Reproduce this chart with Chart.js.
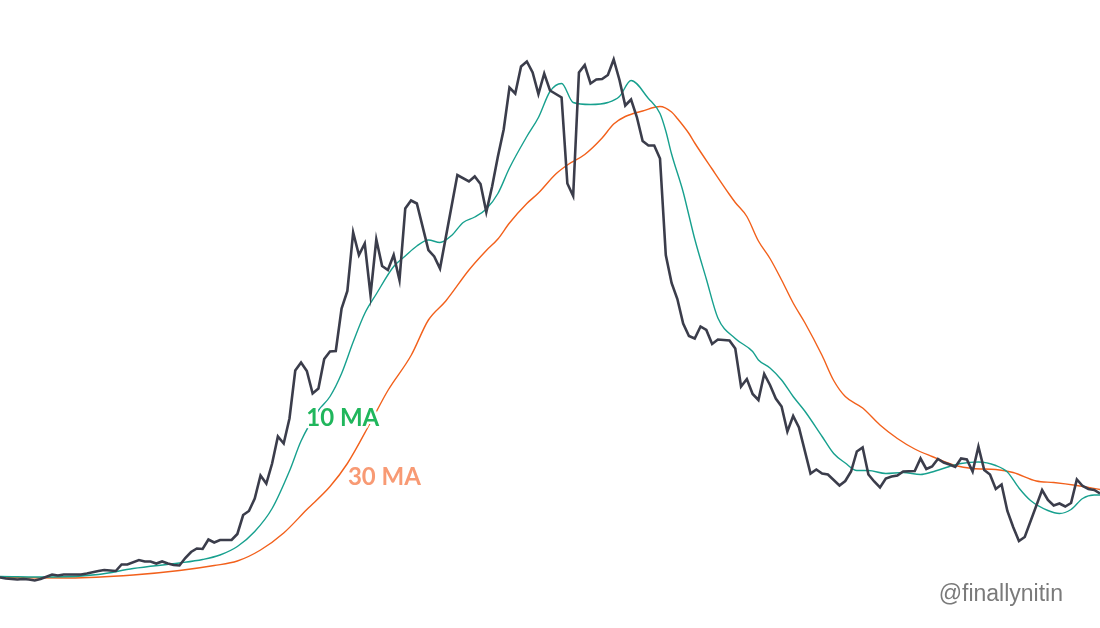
<!DOCTYPE html>
<html>
<head>
<meta charset="utf-8">
<style>
html,body{margin:0;padding:0;background:#fff;overflow:hidden}
#wrap{position:relative;width:1100px;height:628px}
</style>
<script src="https://cdn.jsdelivr.net/npm/chart.js@4.4.1/dist/chart.umd.min.js"></script>
</head>
<body>
<div id="wrap"><canvas id="c" width="1100" height="628"></canvas></div>
<script>
// Daily values
const days = [0,1,2,3,4,5,6,7,9,10,11,13,14,15,17,18,19,20,21,22,24,25,26,27,28,29,30,31,32,33,34,35,36,37,38,40,41,42,43,44,45,46,47,48,49,50,51,52,53,54,55,56,57,58,59,60,61,62,63,64,65,66,67,68,69,70,71,72,74,75,76,79,81,82,83,84,85,86,87,88,89,90,91,92,93,94,95,97,98,99,100,101,102,103,104,105,106,107,108,109,110,111,112,113,114,115,116,117,118,119,120,121,122,123,124,126,127,128,129,130,131,132,133,134,135,136,137,138,140,141,142,143,145,146,147,148,149,150,151,152,153,154,155,156,158,159,160,161,162,163,164,165,166,167,168,169,170,171,172,173,174,175,176,177,180,181,182,183,184,185,186,187,188,189,190];
const cases = [2.5,2.3,2.2,2.1,2.2,2.1,1.9,2.2,3.1,2.9,3.1,3.1,3.1,3.3,3.8,4.0,3.9,3.8,5.1,5.1,6.0,5.7,5.7,5.3,5.7,5.3,5.0,4.9,6.4,7.6,8.3,8.2,10.1,9.5,10.0,10.0,11.2,15.0,15.8,18.3,22.9,21.3,25.3,30.7,29.3,34.3,43.9,45.5,43.8,39.3,40.3,46.2,47.7,47.8,56.3,59.8,71.5,67.0,69.3,59.0,70.1,64.8,64.0,67.0,62.0,76.3,77.9,77.3,68.0,66.7,64.3,83.0,81.7,82.7,81.2,75.6,80.7,86.7,92.1,100.5,99.3,104.7,105.7,103.5,99.2,103.3,99.9,98.5,81.3,78.8,103.5,105.0,101.3,102.1,102.2,103.0,106.1,102.0,96.9,98.1,94.6,89.8,88.9,88.9,86.3,67.0,61.4,58.2,53.3,50.8,50.3,52.7,52.0,49.2,50.1,49.9,48.3,40.7,42.2,39.2,38.0,43.2,41.0,38.3,36.7,31.7,34.8,32.5,23.3,24.1,23.3,23.1,20.9,21.8,23.7,27.7,28.5,23.1,21.7,20.5,22.3,22.7,22.9,23.7,23.8,26.3,24.2,24.7,26.2,25.5,25.1,24.6,26.3,26.1,23.7,28.7,24.0,23.1,20.2,21.1,15.8,12.6,9.8,10.6,20.0,18.0,16.9,17.3,16.7,17.4,22.1,20.8,20.2,20.0,19.3];

// 10-day moving average
const ma10Days = [0,9,17,23,31,35,38,41,44,47,50,52,55,57,59,61,63,65,68,70,72,74,76,78,80,82,84,86,88,91,93,95,97,99,102,105,107,109,112,114,115,116,118,119,120,122,124,127,130,131,133,135,137,139,142,144,146,148,150,153,156,159,161,164,166,169,172,174,176,178,181,183,185,187,189,190];
const ma10 = [2.7,2.6,3.1,4.3,5.4,6.1,7.0,8.7,11.7,16.3,23.8,29.8,35.9,38.7,43.3,49.6,55.3,59.2,64.7,66.8,68.8,70.0,69.5,70.9,73.5,74.6,76.2,79.3,84.4,90.7,94.5,99.7,101.3,97.5,97.1,97.5,98.7,101.9,98.3,95.3,91.8,87.2,79.6,74.9,70.2,62.2,54.4,50.3,47.7,46.0,44.4,42.0,38.7,35.8,30.7,27.3,25.4,23.9,23.9,23.3,23.5,23.1,23.6,24.7,25.3,25.6,24.9,23.6,20.4,17.9,15.9,15.3,16.1,18.3,19.0,19.0];

// 30-day moving average
const ma30Days = [0,12,23,31,37,41,45,49,53,57,60,64,67,71,74,77,81,84,86,88,91,93,96,98,101,104,106,108,111,114,116,117,119,120,123,126,127,129,131,133,135,137,139,142,144,146,149,152,155,158,161,165,168,172,175,179,182,186,190];
const ma30 = [2.5,2.4,3.0,3.9,4.9,5.8,8.0,11.4,16.1,20.7,25.3,33.5,39.9,46.9,54.0,57.8,64.0,67.9,70.2,73.4,77.3,79.4,83.2,85.0,87.1,90.4,93.2,94.7,95.8,96.7,95.6,94.3,91.3,89.4,84.2,79.1,77.5,74.7,69.8,66.3,62.0,57.4,53.5,46.9,41.9,38.7,36.4,33.0,30.3,28.2,26.7,24.9,24.3,24.1,23.5,21.8,21.5,20.9,20.1];

const seriesLabels = ['Daily', '10 MA', '30 MA'];
const watermark = '@finallynitin';

const toXY = (xs, ys) => xs.map((d, i) => ({ x: d, y: ys[i] }));

const labelPlugin = {
  id: 'maLabels',
  afterDatasetsDraw(chart) {
    const { ctx } = chart;
    const xs = chart.scales.x, ys = chart.scales.y;
    ctx.save();
    ctx.textAlign = 'left';
    ctx.textBaseline = 'alphabetic';
    ctx.font = 'bold 24px Lato';
    ctx.lineJoin = 'round';
    ctx.lineWidth = 5;
    ctx.strokeStyle = '#ffffff';
    const items = [
      { text: seriesLabels[1], day: 52.9, val: 32.8, color: '#20b65c' },
      { text: seriesLabels[2], day: 60.1, val: 21.1, color: '#f89a74' }
    ];
    for (const it of items) {
      const px = xs.getPixelForValue(it.day), py = ys.getPixelForValue(it.val);
      ctx.strokeText(it.text, px, py);
      ctx.fillStyle = it.color;
      ctx.fillText(it.text, px, py);
    }
    ctx.font = '23px "Liberation Sans", Arial, sans-serif';
    ctx.textAlign = 'right';
    ctx.fillStyle = '#7a7a7a';
    ctx.fillText(watermark, 1063, 601);
    ctx.restore();
  }
};

new Chart(document.getElementById('c'), {
  type: 'line',
  data: {
    datasets: [
      { label: seriesLabels[0], data: toXY(days, cases), borderColor: '#3b3d4b', borderWidth: 2.6, pointRadius: 0, tension: 0, fill: false },
      { label: seriesLabels[1], data: toXY(ma10Days, ma10), borderColor: '#17a08e', borderWidth: 1.4, pointRadius: 0, cubicInterpolationMode: 'monotone', fill: false },
      { label: seriesLabels[2], data: toXY(ma30Days, ma30), borderColor: '#f2601b', borderWidth: 1.4, pointRadius: 0, cubicInterpolationMode: 'monotone', fill: false }
    ]
  },
  options: {
    responsive: false,
    devicePixelRatio: 1,
    animation: false,
    layout: { padding: 0 },
    plugins: { legend: { display: false }, tooltip: { enabled: false }, title: { display: false } },
    scales: {
      x: { type: 'linear', min: 0, max: 190, display: false },
      y: { type: 'linear', min: -7.6, max: 118, display: false }
    }
  },
  plugins: [labelPlugin]
});
</script>
</body>
</html>
